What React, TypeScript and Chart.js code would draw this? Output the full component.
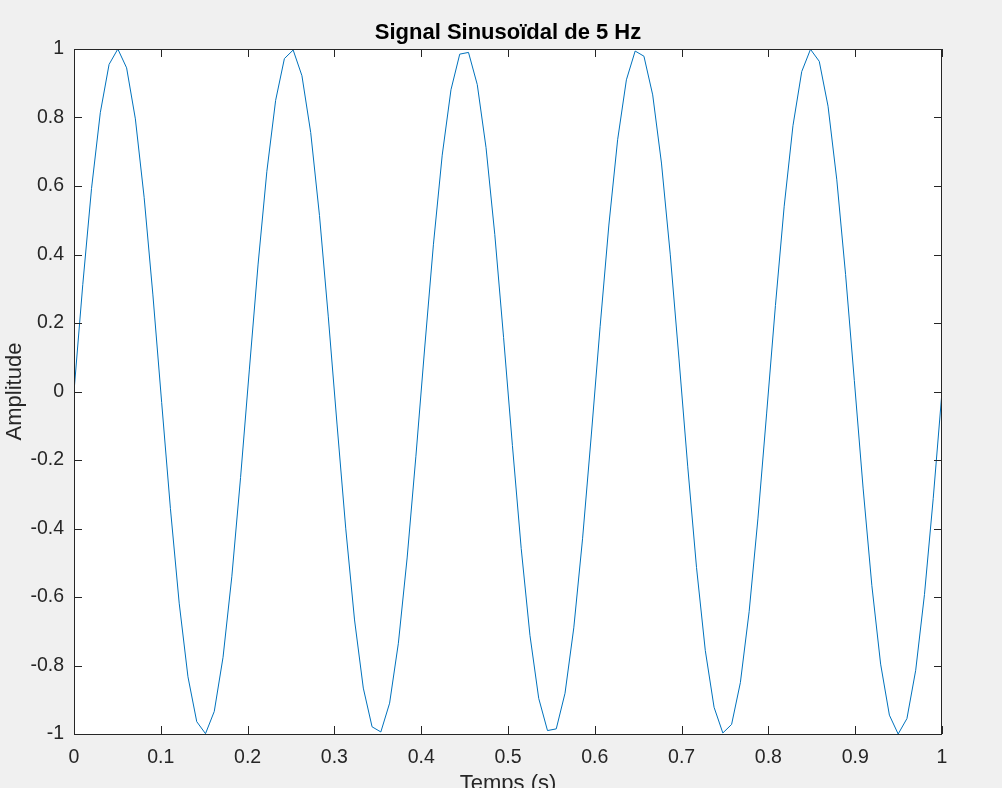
import React, { useEffect, useRef } from "react";
import { Chart, registerables } from "chart.js";

Chart.register(...registerables);

const titleText = "Signal Sinusoïdal de 5 Hz";
const xAxisTitle = "Temps (s)";
const yAxisTitle = "Amplitude";

const xTickLabels = ["0", "0.1", "0.2", "0.3", "0.4", "0.5", "0.6", "0.7", "0.8", "0.9", "1"];
const yTickLabels = ["-1", "-0.8", "-0.6", "-0.4", "-0.2", "0", "0.2", "0.4", "0.6", "0.8", "1"];

const times = [
  0.0, 0.0101, 0.0202, 0.0303, 0.0404, 0.0505, 0.0606, 0.0707, 0.0808, 0.0909,
  0.101, 0.1111, 0.1212, 0.1313, 0.1414, 0.1515, 0.1616, 0.1717, 0.1818, 0.1919,
  0.202, 0.2121, 0.2222, 0.2323, 0.2424, 0.2525, 0.2626, 0.2727, 0.2828, 0.2929,
  0.303, 0.3131, 0.3232, 0.3333, 0.3434, 0.3535, 0.3636, 0.3737, 0.3838, 0.3939,
  0.404, 0.4141, 0.4242, 0.4343, 0.4444, 0.4545, 0.4646, 0.4747, 0.4848, 0.4949,
  0.5051, 0.5152, 0.5253, 0.5354, 0.5455, 0.5556, 0.5657, 0.5758, 0.5859, 0.596,
  0.6061, 0.6162, 0.6263, 0.6364, 0.6465, 0.6566, 0.6667, 0.6768, 0.6869, 0.697,
  0.7071, 0.7172, 0.7273, 0.7374, 0.7475, 0.7576, 0.7677, 0.7778, 0.7879, 0.798,
  0.8081, 0.8182, 0.8283, 0.8384, 0.8485, 0.8586, 0.8687, 0.8788, 0.8889, 0.899,
  0.9091, 0.9192, 0.9293, 0.9394, 0.9495, 0.9596, 0.9697, 0.9798, 0.9899, 1.0,
];

const amplitude = [
  0, 0.312, 0.593, 0.814, 0.955, 1.0, 0.945, 0.796, 0.567, 0.282,
  -0.032, -0.342, -0.618, -0.833, -0.964, -0.999, -0.934, -0.776, -0.541, -0.251,
  0.063, 0.372, 0.643, 0.85, 0.972, 0.997, 0.922, 0.756, 0.514, 0.22,
  -0.095, -0.401, -0.667, -0.866, -0.979, -0.994, -0.91, -0.735, -0.486, -0.189,
  0.127, 0.43, 0.69, 0.881, 0.985, 0.99, 0.896, 0.712, 0.458, 0.158,
  -0.158, -0.458, -0.712, -0.896, -0.99, -0.985, -0.881, -0.69, -0.43, -0.127,
  0.189, 0.486, 0.735, 0.91, 0.994, 0.979, 0.866, 0.667, 0.401, 0.095,
  -0.22, -0.514, -0.756, -0.922, -0.997, -0.972, -0.85, -0.643, -0.372, -0.063,
  0.251, 0.541, 0.776, 0.934, 0.999, 0.964, 0.833, 0.618, 0.342, 0.032,
  -0.282, -0.567, -0.796, -0.945, -1.0, -0.955, -0.814, -0.593, -0.312, 0,
];

const FONT = "'Liberation Sans', Arial, Helvetica, sans-serif";
const AXIS_COLOR = "#262626";

const axesPlugin = {
  id: "matlabAxes",
  beforeDraw(chart: any) {
    const { ctx, chartArea } = chart;
    ctx.save();
    ctx.fillStyle = "#f0f0f0";
    ctx.fillRect(0, 0, chart.width, chart.height);
    ctx.fillStyle = "#ffffff";
    ctx.fillRect(chartArea.left, chartArea.top, chartArea.right - chartArea.left, chartArea.bottom - chartArea.top);
    ctx.restore();
  },
  afterDraw(chart: any) {
    const { ctx, chartArea } = chart;
    const { left, right, top, bottom } = chartArea;
    const xs = chart.scales.x;
    const ys = chart.scales.y;
    const len = 8;
    ctx.save();
    ctx.strokeStyle = AXIS_COLOR;
    ctx.lineWidth = 1;
    ctx.beginPath();
    xs.ticks.forEach((t: any) => {
      const px = Math.round(xs.getPixelForValue(t.value)) + 0.5;
      ctx.moveTo(px, bottom);
      ctx.lineTo(px, bottom - len);
      ctx.moveTo(px, top);
      ctx.lineTo(px, top + len);
    });
    ys.ticks.forEach((t: any) => {
      const py = Math.round(ys.getPixelForValue(t.value)) + 0.5;
      ctx.moveTo(left, py);
      ctx.lineTo(left + len, py);
      ctx.moveTo(right, py);
      ctx.lineTo(right - len, py);
    });
    ctx.stroke();
    ctx.strokeRect(left + 0.5, top + 0.5, right - left - 1, bottom - top);
    ctx.restore();
  },
};

export default function App() {
  const canvasRef = useRef<HTMLCanvasElement | null>(null);

  useEffect(() => {
    if (!canvasRef.current) return;
    const chart = new Chart(canvasRef.current, {
      type: "line",
      data: {
        datasets: [
          {
            label: "signal",
            data: times.map((t, i) => ({ x: t, y: amplitude[i] })),
            borderColor: "#0072BD",
            backgroundColor: "#0072BD",
            borderWidth: 1,
            pointRadius: 0,
            tension: 0,
            fill: false,
          },
        ],
      },
      options: {
        animation: false,
        responsive: false,
        layout: { padding: { left: 0, right: 60, top: 0, bottom: 0 } },
        plugins: {
          legend: { display: false },
          tooltip: { enabled: false },
          title: {
            display: true,
            text: titleText,
            fullSize: false,
            color: "#000000",
            font: { family: FONT, size: 22, weight: "bold", lineHeight: 1.2 },
            padding: { top: 20, bottom: 2.6 },
          },
        },
        scales: {
          x: {
            type: "linear",
            min: 0,
            max: 1,
            grid: { display: false, drawTicks: false },
            border: { display: false },
            ticks: {
              stepSize: 0.1,
              padding: 11.5,
              color: AXIS_COLOR,
              font: { family: FONT, size: 19.5 },
              maxRotation: 0,
              autoSkip: false,
              callback: (_v: any, i: number) => xTickLabels[i],
            },
            title: {
              display: true,
              text: xAxisTitle,
              color: AXIS_COLOR,
              font: { family: FONT, size: 22, lineHeight: 1.2 },
              padding: { top: 0, bottom: -9 },
            },
            afterFit: (scale: any) => {
              scale.height = 54;
            },
          },
          y: {
            type: "linear",
            min: -1,
            max: 1,
            grid: { display: false, drawTicks: false },
            border: { display: false },
            ticks: {
              stepSize: 0.2,
              padding: 10,
              color: AXIS_COLOR,
              font: { family: FONT, size: 19.5 },
              autoSkip: false,
              callback: (_v: any, i: number) => yTickLabels[i],
            },
            title: {
              display: true,
              text: yAxisTitle,
              color: AXIS_COLOR,
              font: { family: FONT, size: 22, lineHeight: 1.2 },
              padding: { top: 1.5, bottom: 0 },
            },
            afterFit: (scale: any) => {
              scale.width = 74;
            },
          },
        },
      },
      plugins: [axesPlugin],
    } as any);
    return () => chart.destroy();
  }, []);

  return (
    <div style={{ position: "fixed", left: 0, top: 0, width: 1002, height: 788, overflow: "hidden", background: "#f0f0f0" }}>
      <canvas ref={canvasRef} width={1002} height={788} style={{ display: "block", width: 1002, height: 788 }} />
    </div>
  );
}
